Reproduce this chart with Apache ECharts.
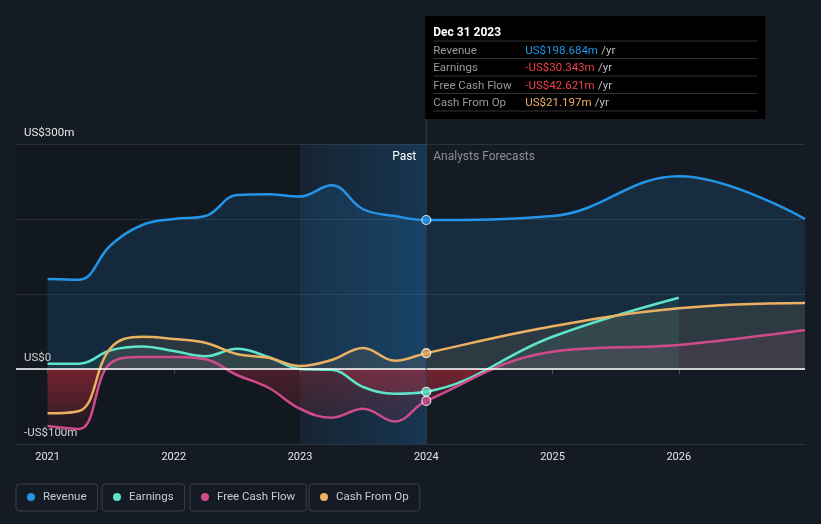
<!DOCTYPE html>
<html><head><meta charset="utf-8">
<script src="https://cdn.jsdelivr.net/npm/echarts@6/dist/echarts.min.js"></script>
<style>html,body{margin:0;padding:0;background:#151b24;}#c{width:821px;height:524px;}</style>
</head><body><div id="c"></div>
<script>
// ---- data (US$ m) ----
const pastDates      = [2021.0, 2021.25, 2021.5, 2021.75, 2022.0, 2022.25, 2022.5, 2022.75, 2023.0, 2023.25, 2023.5, 2023.75, 2024.0];
const revenuePast    = [120, 119, 165, 192, 200, 204, 232, 233, 230, 245, 213, 204, 198.684];
const earningsPast   = [7, 7, 25, 30, 24, 17, 27, 16, 0, -1, -24, -33, -30.343];
const fcfPast        = [-76, -80, 8, 16, 16, 13, -8, -25, -53, -65, -53, -70, -42.621];
const cfoPast        = [-59, -56, 28, 43, 40, 35, 20, 15, 4, 12, 28, 11, 21.197];
const forecastDates  = [2024.0, 2025.0, 2026.0, 2027.0];
const revenueFcst    = [198.684, 204, 257, 200];
const earningsFcst   = [-30.343, 43, 95];
const fcfFcst        = [-42.621, 23, 32, 52];
const cfoFcst        = [21.197, 57, 81, 88];
const yearTicks      = [2021, 2022, 2023, 2024, 2025, 2026];
const yLabelled      = [-100, 0, 300];
const seriesNames    = ['Revenue', 'Earnings', 'Free Cash Flow', 'Cash From Op'];
const tooltipTitle   = 'Dec 31 2023';

const colors = ['#2394e6', '#5fe3c9', '#d04b8c', '#ecb062'];
const tint   = ['rgba(35,148,230,0.14)', 'rgba(95,227,201,0.09)', 'rgba(208,75,140,0.10)', 'rgba(236,176,98,0.10)'];

function join(pd, pv, fd, fv) {
  const out = pd.map((d, i) => [d, pv[i]]);
  for (let i = 1; i < fv.length; i++) out.push([fd[i], fv[i]]);
  return out;
}
const allData = [
  join(pastDates, revenuePast, forecastDates, revenueFcst),
  join(pastDates, earningsPast, forecastDates, earningsFcst),
  join(pastDates, fcfPast, forecastDates, fcfFcst),
  join(pastDates, cfoPast, forecastDates, cfoFcst)
];
const lastPast = [revenuePast, earningsPast, fcfPast, cfoPast].map(a => a[a.length - 1]);
const nowDate = pastDates[pastDates.length - 1];

const chart = echarts.init(document.getElementById('c'), null, {renderer: 'canvas'});
const FONT = 'Roboto, "Noto Sans", sans-serif';

const series = [];
// area-only series (tinted red below zero)
allData.forEach((d, i) => {
  series.push({
    name: '_area' + i, type: 'line', data: d, smooth: 0.4, symbol: 'none', silent: true,
    lineStyle: {width: 0, opacity: 0}, areaStyle: i === 0 ? {color: tint[0], opacity: 1} : {opacity: 1},
    z: 1
  });
});
// lines
allData.forEach((d, i) => {
  series.push({
    name: seriesNames[i], type: 'line', data: d, smooth: 0.4, symbol: 'none', silent: true,
    itemStyle: {color: colors[i]}, lineStyle: {width: 2.5, color: colors[i]}, z: 3
  });
});
// helper: zero line
series.push({
  name: '_helper', type: 'line', data: [[2021, 0]], symbol: 'none', lineStyle: {opacity: 0}, silent: true, z: 2,
  markLine: {silent: true, symbol: 'none', label: {show: false},
    lineStyle: {color: '#ffffff', width: 1.5, type: 'solid'}, data: [{yAxis: 0}]}
});
// helper: dark past / highlighted past
series.push({
  name: '_overlay', type: 'line', data: [[2021, 0]], symbol: 'none', lineStyle: {opacity: 0}, silent: true, z: 4,
  markArea: {silent: true, data: [
    [{xAxis: 2020.75, itemStyle: {color: 'rgba(0,0,0,0.1)'}}, {xAxis: 2023}],
    [{xAxis: 2023, itemStyle: {color: new echarts.graphic.LinearGradient(0, 0, 1, 0, [
      {offset: 0, color: 'rgba(30,100,160,0.12)'}, {offset: 1, color: 'rgba(30,110,180,0.32)'}])}}, {xAxis: nowDate}]
  ]}
});
// highlighted points at the tooltip date
series.push({
  name: '_pts', type: 'scatter', silent: true, z: 6, symbolSize: 9,
  data: lastPast.map((v, i) => ({value: [nowDate, v], itemStyle: {color: colors[i], borderColor: '#ffffff', borderWidth: 1.2}}))
});

// red fill below zero, fading with depth (style bands)
function redPieces(posTint) {
  const p = [{gte: -1000, lt: -100, color: 'rgba(200,45,60,0.02)'}];
  for (let k = 0; k < 20; k++) {
    const lo = -100 + k * 5, a = 0.02 + 0.28 * (k + 1) / 20;
    p.push({gte: lo, lt: lo + 5, color: 'rgba(200,45,60,' + a.toFixed(3) + ')'});
  }
  p.push({gte: 0, lte: 1000, color: posTint});
  return p;
}
const visualMaps = [1, 2, 3].map(i => ({
  show: false, type: 'piecewise', seriesIndex: i, dimension: 1, pieces: redPieces(tint[i])
}));

const legendLefts = [16, 102, 190, 309];
const legends = seriesNames.map((n, i) => ({
  data: [n], left: legendLefts[i], top: 484, orient: 'horizontal',
  icon: 'circle', itemWidth: 8, itemHeight: 8, selectedMode: false,
  padding: [7, 11, 8, 11], borderColor: '#3a3f48', borderWidth: 1, borderRadius: 3,
  textStyle: {color: '#c9cbce', fontSize: 11.5, fontFamily: FONT, padding: [0, 0, 0, 3]}
}));

chart.setOption({
  backgroundColor: '#151b24',
  animation: false,
  grid: {left: 16, right: 16, top: 144, bottom: 80, containLabel: false},
  xAxis: {
    type: 'value', min: 2020.75, max: 2027,
    axisLine: {show: true, lineStyle: {color: '#4a4f57', width: 1}},
    axisTick: {show: true, customValues: yearTicks, length: 5, lineStyle: {color: '#4a4f57'}},
    axisLabel: {customValues: yearTicks, color: '#e6e6e6', fontSize: 11, fontFamily: FONT, margin: 8,
      formatter: v => String(Math.round(v))},
    splitLine: {show: false}
  },
  yAxis: {
    type: 'value', min: -100, max: 300, interval: 100,
    axisLine: {show: false}, axisTick: {show: false},
    splitLine: {lineStyle: {color: '#2c323b', width: 1}},
    axisLabel: {inside: true, margin: 8, verticalAlign: 'bottom', padding: [0, 0, 5, 0],
      color: '#e8e8e8', fontSize: 11.5, fontFamily: FONT,
      formatter: v => yLabelled.includes(v) ? (v < 0 ? '-US$' + Math.abs(v) + 'm' : (v === 0 ? 'US$0' : 'US$' + v + 'm')) : ''}
  },
  legend: legends,
  visualMap: visualMaps,
  series: series
});

// annotations computed from the axes
const px = chart.convertToPixel({gridIndex: 0}, [nowDate, 300]);
const bottom = chart.convertToPixel({gridIndex: 0}, [nowDate, -100]);
function fmt(v) { return (v < 0 ? '-US$' : 'US$') + Math.abs(v).toFixed(3) + 'm'; }
const valColor = (v, i) => v < 0 ? '#f0424a' : colors[i];
const tipX = px[0] - 1, tipY = 16, tipW = 340, tipH = 103;
const rowY = [51, 68.5, 86, 103.5];
const sepY = [41, 58.5, 76, 93.5, 111];
const graphics = [
  {type: 'line', shape: {x1: px[0], y1: tipY + tipH, x2: px[0], y2: bottom[1]}, style: {stroke: '#2b3e52', lineWidth: 1}, z: 5, silent: true},
  {type: 'text', x: px[0] - 10, y: px[1] + 13, style: {text: 'Past', fill: '#ffffff', font: '12px ' + FONT, textAlign: 'right', textVerticalAlign: 'middle'}, z: 7},
  {type: 'text', x: px[0] + 7, y: px[1] + 13, style: {text: 'Analysts Forecasts', fill: '#8b9097', font: '12px ' + FONT, textAlign: 'left', textVerticalAlign: 'middle'}, z: 7},
  {type: 'rect', shape: {x: tipX, y: tipY, width: tipW, height: tipH}, style: {fill: '#000000'}, z: 10},
  {type: 'text', x: tipX + 8, y: 32.5, style: {text: tooltipTitle, fill: '#ffffff', font: 'bold 12px ' + FONT, textVerticalAlign: 'middle'}, z: 11}
];
sepY.forEach(y => graphics.push({type: 'line', shape: {x1: tipX + 8, y1: y, x2: tipX + tipW - 8, y2: y}, style: {stroke: '#333333', lineWidth: 1}, z: 11}));
seriesNames.forEach((n, i) => {
  graphics.push({type: 'text', x: tipX + 8, y: rowY[i], style: {text: n, fill: '#9a9a9a', font: '11.5px ' + FONT, textVerticalAlign: 'middle'}, z: 11});
  graphics.push({type: 'text', x: tipX + 100, y: rowY[i], style: {
    text: '{v|' + fmt(lastPast[i]) + '} {u|/yr}', textVerticalAlign: 'middle',
    rich: {v: {fill: valColor(lastPast[i], i), font: '11.5px ' + FONT}, u: {fill: '#bdbdbd', font: '11.5px ' + FONT}}
  }, z: 11});
});
chart.setOption({graphic: graphics});
</script>
</body></html>
